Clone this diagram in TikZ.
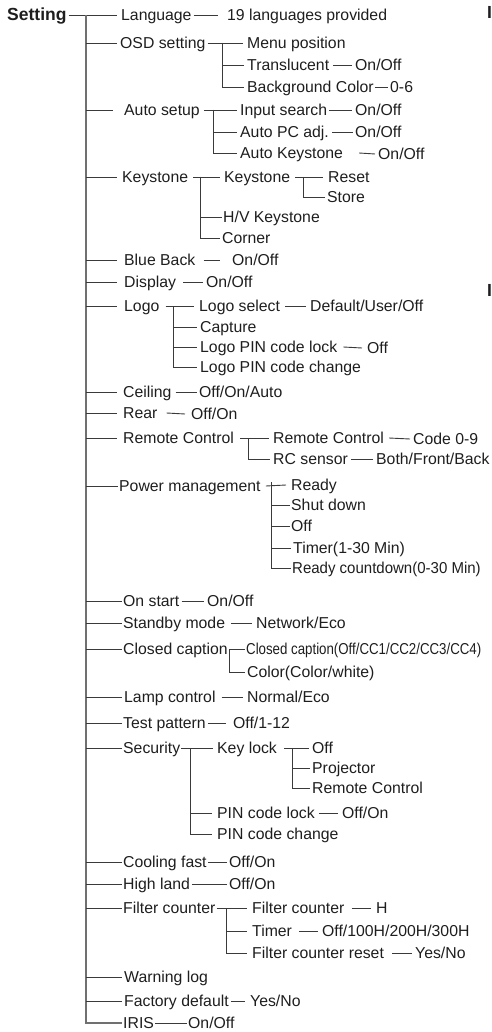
\documentclass[tikz,border=0pt]{standalone}
\usepackage{fontspec}
\setmainfont{Liberation Sans}
\usepackage{graphicx}
\definecolor{txt}{HTML}{1E1E1E}
\definecolor{lin}{HTML}{3A3A3A}
\definecolor{trk}{HTML}{707070}
\tikzset{
  t/.style={anchor=west, inner sep=0pt, text height=11.3pt, text depth=0pt, text=txt,
            font=\fontsize{15.8}{18}\selectfont},
  tb/.style={anchor=west, inner sep=0pt, text height=12.5pt, text depth=0pt, text=txt,
            font=\fontsize{17.5}{20}\selectfont\bfseries},
  ln/.style={draw=lin, line width=0.9pt},
  trunk/.style={draw=trk, line width=1.1pt},
}
\newcommand\conn[4]{\draw[ln] ([xshift=#2pt]#1.east) -- ([xshift=-#3pt]#4.west);}
\newcommand\busto[3]{\draw[ln] (#1) |- ([xshift=-#2pt]#3.west);}
\begin{document}
\begin{tikzpicture}[x=1pt,y=-1pt]
\useasboundingbox (0,0) rectangle (491,1032);
% root
\node[tb] (set) at (7,14) {Setting};
\coordinate (tr) at (86,15);
% level 1
\node[t] (lang) at (121,15) {Language};
\node[t] (osd) at (120,43) {OSD setting};
\node[t] (auto) at (124,110) {Auto setup};
\node[t] (key) at (122,177) {Keystone};
\node[t] (blue) at (124,260) {Blue Back};
\node[t] (disp) at (124,282) {Display};
\node[t] (logo) at (124,306) {Logo};
\node[t] (ceil) at (123,392) {Ceiling};
\node[t] (rear) at (123,413) {Rear};
\node[t] (rc) at (123,438) {Remote Control};
\node[t] (pm) at (119,486) {Power management};
\node[t] (ons) at (123,601) {On start};
\node[t] (stb) at (123,623) {Standby mode};
\node[t] (cc) at (123,649) {Closed caption};
\node[t] (lamp) at (124,697) {Lamp control};
\node[t] (test) at (123,723) {Test pattern};
\node[t] (sec) at (123,748) {Security};
\node[t] (cool) at (123,862) {Cooling fast};
\node[t] (high) at (123,884) {High land};
\node[t] (filt) at (123,908) {Filter counter};
\node[t] (warn) at (124,977) {Warning log};
\node[t] (fact) at (124,1001) {Factory default};
\node[t] (iris) at (123,1023) {IRIS};
% trunk and level-1 connectors
\draw[ln] ([xshift=2pt]set.east |- lang.west) -- ([xshift=-4pt]lang.west);
\draw[trunk] (tr) |- ([xshift=-1pt]iris.west);
\draw[ln] (tr |- osd.west) -- ([xshift=-3pt]osd.west);
\draw[ln] (tr |- auto.west) -- ([xshift=-11pt]auto.west);
\draw[ln] (tr |- key.west) -- ([xshift=-5pt]key.west);
\draw[ln] (tr |- blue.west) -- ([xshift=-7pt]blue.west);
\draw[ln] (tr |- disp.west) -- ([xshift=-7pt]disp.west);
\draw[ln] (tr |- logo.west) -- ([xshift=-7pt]logo.west);
\draw[ln] (tr |- ceil.west) -- ([xshift=-6pt]ceil.west);
\draw[ln] (tr |- rear.west) -- ([xshift=-6pt]rear.west);
\draw[ln] (tr |- rc.west) -- ([xshift=-6pt]rc.west);
\draw[ln] (tr |- pm.west) -- ([xshift=-1pt]pm.west);
\draw[ln] (tr |- ons.west) -- ([xshift=-1pt]ons.west);
\draw[ln] (tr |- stb.west) -- ([xshift=-1pt]stb.west);
\draw[ln] (tr |- cc.west) -- ([xshift=-1pt]cc.west);
\draw[ln] (tr |- lamp.west) -- ([xshift=-2pt]lamp.west);
\draw[ln] (tr |- test.west) -- ([xshift=-1pt]test.west);
\draw[ln] (tr |- sec.west) -- ([xshift=-1pt]sec.west);
\draw[ln] (tr |- cool.west) -- ([xshift=-1pt]cool.west);
\draw[ln] (tr |- high.west) -- ([xshift=-1pt]high.west);
\draw[ln] (tr |- filt.west) -- ([xshift=-1pt]filt.west);
\draw[ln] (tr |- warn.west) -- ([xshift=-2pt]warn.west);
\draw[ln] (tr |- fact.west) -- ([xshift=-2pt]fact.west);
% Language
\node[t] (langv) at (227,15) {19 languages provided};
\conn{lang}{2}{9}{langv}
% OSD setting
\node[t] (menu) at (247,43) {Menu position};
\node[t] (trans) at (247,65) {Translucent};
\node[t] (transv) at (355,65) {On/Off};
\node[t] (bgc) at (247,87) {Background Color};
\node[t] (bgcv) at (390,87) {0-6};
\coordinate (osdb) at (222,43);
\conn{osd}{2}{4}{menu}
\busto{osdb}{3}{trans}
\busto{osdb}{3}{bgc}
\conn{trans}{4}{3}{transv}
\conn{bgc}{1}{2}{bgcv}
% Auto setup
\node[t] (insr) at (240,110) {Input search};
\node[t] (insrv) at (355,110) {On/Off};
\node[t] (apc) at (240,132) {Auto PC adj.};
\node[t] (apcv) at (355,132) {On/Off};
\node[t] (aks) at (240,153) {Auto Keystone};
\node[t] (aksv) at (378,154) {On/Off};
\coordinate (autob) at (213,110);
\conn{auto}{4}{3}{insr}
\busto{autob}{3}{apc}
\busto{autob}{3}{aks}
\conn{insr}{2}{3}{insrv}
\conn{apc}{3}{2}{apcv}
\conn{aks}{16}{3}{aksv}
% Keystone
\node[t] (key2) at (224,177) {Keystone};
\node[t] (reset) at (328,177) {Reset};
\node[t] (store) at (327,197) {Store};
\node[t] (hv) at (223,217) {H/V Keystone};
\node[t] (corner) at (222,238) {Corner};
\coordinate (keyb) at (200,177);
\coordinate (key2b) at (303,177);
\conn{key}{5}{4}{key2}
\conn{key2}{5}{5}{reset}
\busto{key2b}{2}{store}
\busto{keyb}{1}{hv}
\busto{keyb}{2}{corner}
% Blue Back, Display
\node[t] (bluev) at (232,260) {On/Off};
\conn{blue}{8}{12}{bluev}
\node[t] (dispv) at (206,282) {On/Off};
\conn{disp}{7}{3}{dispv}
% Logo
\node[t] (lsel) at (199,306) {Logo select};
\node[t] (lselv) at (310,306) {Default/User/Off};
\node[t] (cap) at (200,327) {Capture};
\node[t] (lpin) at (200,347) {Logo PIN code lock};
\node[t] (lpinv) at (367,348) {Off};
\node[t] (lpinc) at (200,367) {Logo PIN code change};
\coordinate (logob) at (173,306);
\conn{logo}{6}{5}{lsel}
\conn{lsel}{5}{4}{lselv}
\busto{logob}{3}{cap}
\busto{logob}{3}{lpin}
\busto{logob}{3}{lpinc}
\conn{lpin}{6}{5}{lpinv}
% Ceiling, Rear
\node[t] (ceilv) at (199,392) {Off/On/Auto};
\conn{ceil}{4}{2}{ceilv}
\node[t] (rearv) at (191,414) {Off/On};
\conn{rear}{9}{6}{rearv}
% Remote Control
\node[t] (rc2) at (273,438) {Remote Control};
\node[t] (rc2v) at (413,439) {Code 0-9};
\node[t] (rcs) at (273,459) {RC sensor};
\node[t] (rcsv) at (376,459) {Both/Front/Back};
\coordinate (rcb) at (248,438);
\conn{rc}{6}{4}{rc2}
\busto{rcb}{3}{rcs}
\conn{rc2}{5}{3}{rc2v}
\conn{rcs}{3}{3}{rcsv}
% Power management
\node[t] (ready) at (291,485) {Ready};
\node[t] (shut) at (291,505) {Shut down};
\node[t] (poff) at (291,526) {Off};
\node[t] (timer) at (293,548) {Timer(1-30 Min)};
\node[t] (rcd) at (292,568) {\scalebox{0.95}[1]{Ready countdown(0-30 Min)}};
\coordinate (pmb) at (271,482);
\conn{pm}{5}{5}{ready}
\busto{pmb}{1}{shut}
\busto{pmb}{1}{poff}
\busto{pmb}{2}{timer}
\busto{pmb}{1}{rcd}
% On start, Standby
\node[t] (onsv) at (207,601) {On/Off};
\conn{ons}{2}{3}{onsv}
\node[t] (stbv) at (256,623) {Network/Eco};
\conn{stb}{6}{4}{stbv}
% Closed caption
\node[t] (cc2) at (246,649) {\scalebox{0.84}[1]{Closed caption(Off/CC1/CC2/CC3/CC4)}};
\node[t] (ccc) at (247,672) {Color(Color/white)};
\coordinate (ccb) at (229,649);
\conn{cc}{2}{1}{cc2}
\busto{ccb}{2}{ccc}
% Lamp, Test pattern
\node[t] (lampv) at (247,697) {Normal/Eco};
\conn{lamp}{6}{4}{lampv}
\node[t] (testv) at (233,723) {Off/1-12};
\conn{test}{2}{7}{testv}
% Security
\node[t] (klock) at (217,748) {Key lock};
\node[t] (koff) at (312,748) {Off};
\node[t] (kproj) at (312,768) {Projector};
\node[t] (krc) at (312,788) {Remote Control};
\node[t] (pinl) at (217,813) {PIN code lock};
\node[t] (pinlv) at (342,813) {Off/On};
\node[t] (pinc) at (217,834) {PIN code change};
\coordinate (secb) at (190,748);
\coordinate (klb) at (292,748);
\conn{sec}{1}{4}{klock}
\conn{klock}{7}{3}{koff}
\busto{klb}{2}{kproj}
\busto{klb}{2}{krc}
\busto{secb}{5}{pinl}
\busto{secb}{5}{pinc}
\conn{pinl}{4}{4}{pinlv}
% Cooling fast, High land
\node[t] (coolv) at (229,862) {Off/On};
\conn{cool}{1}{2}{coolv}
\node[t] (highv) at (229,884) {Off/On};
\conn{high}{2}{2}{highv}
% Filter counter
\node[t] (filt2) at (252,908) {Filter counter};
\node[t] (filt2v) at (376,908) {H};
\node[t] (ftim) at (252,931) {Timer};
\node[t] (ftimv) at (322,931) {Off/100H/200H/300H};
\node[t] (frst) at (252,953) {Filter counter reset};
\node[t] (frstv) at (415,953) {Yes/No};
\coordinate (filtb) at (226,908);
\conn{filt}{1}{5}{filt2}
\busto{filtb}{5}{ftim}
\busto{filtb}{5}{frst}
\conn{filt2}{7}{5}{filt2v}
\conn{ftim}{7}{4}{ftimv}
\conn{frst}{8}{3}{frstv}
% Factory default, IRIS
\node[t] (factv) at (250,1001) {Yes/No};
\conn{fact}{2}{5}{factv}
\node[t] (irisv) at (188,1023) {On/Off};
\conn{iris}{1}{1}{irisv}
% cut-off letters at the right edge
\node[tb] (cut1) at (487,12) {I};
\node[tb] (cut2) at (487,290) {I};
\end{tikzpicture}
\end{document}
